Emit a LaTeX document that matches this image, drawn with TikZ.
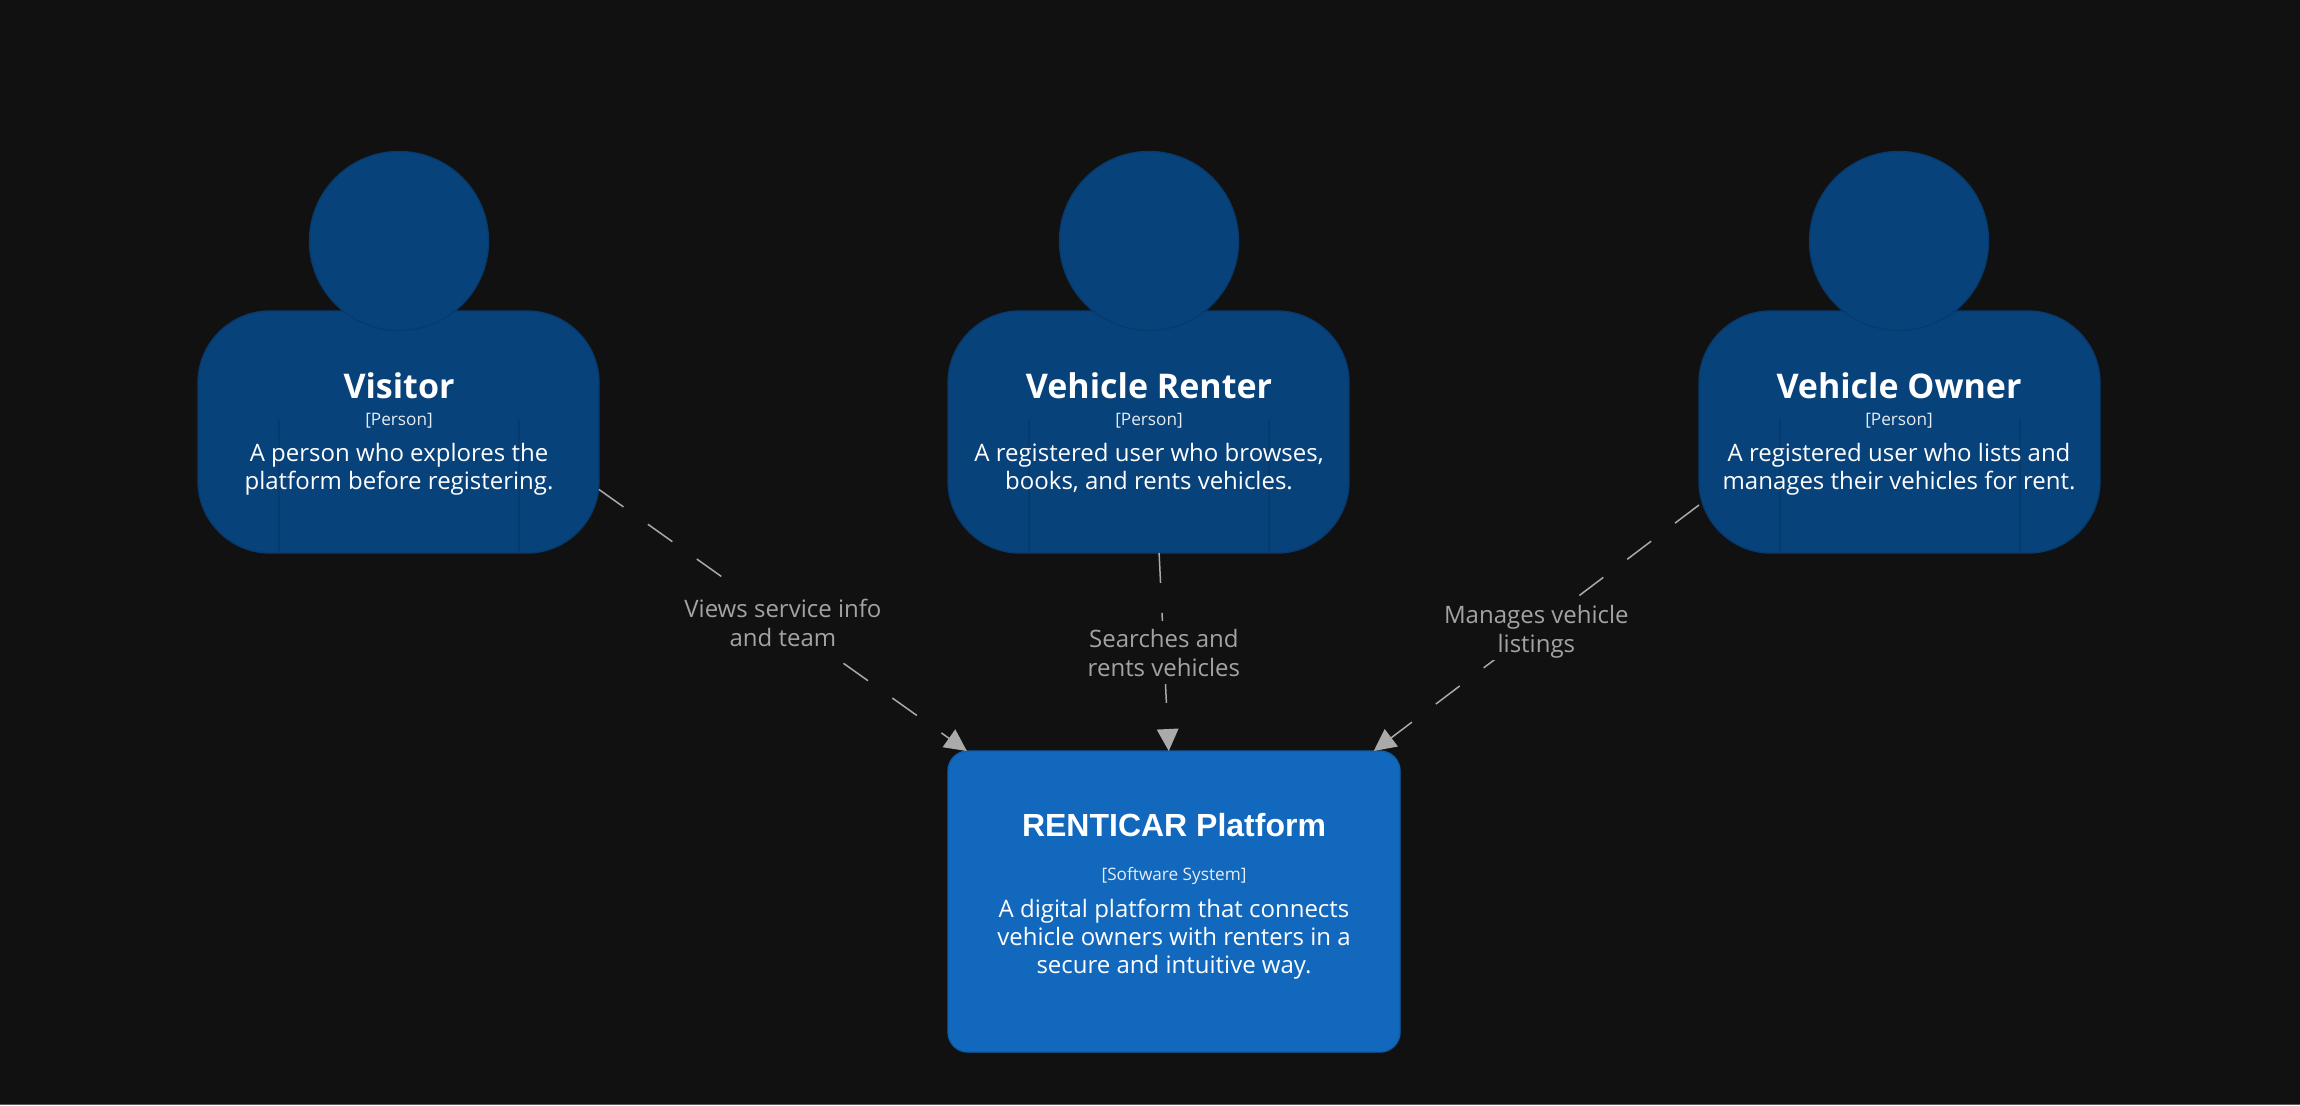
\documentclass[tikz,border=0pt]{standalone}
\usepackage{fontspec}
\setmainfont{Open Sans}
\newfontfamily\arialfont{Liberation Sans}
\usetikzlibrary{arrows.meta, positioning, calc}
\definecolor{canvasdark}{HTML}{111111}
\definecolor{canvasedge}{HTML}{5A5A5A}
\definecolor{personblue}{HTML}{08427B}
\definecolor{personedge}{HTML}{073B6F}
\definecolor{systemblue}{HTML}{1168BD}
\definecolor{systemedge}{HTML}{0F5EAA}
\definecolor{flowgray}{HTML}{AAAAAA}
\definecolor{labelgray}{HTML}{A3A3A3}
\newcommand{\flowtext}[2]{\rule{0pt}{13.35pt}#1\\#2\rule[-3.65pt]{0pt}{0pt}}
\tikzset{
    personbody/.style={
        draw=personedge,
        fill=personblue,
        line width=0.7pt,
        rounded corners=36pt,
        minimum width=200.5pt,
        minimum height=121pt,
        inner sep=0pt,
        outer sep=0pt
    },
    personhead/.style={
        circle,
        draw=personedge,
        fill=personblue,
        line width=0.7pt,
        minimum size=89.5pt,
        inner sep=0pt
    },
    personseam/.style={draw=personedge, line width=0.7pt},
    systembox/.style={
        draw=systemedge,
        fill=systemblue,
        line width=0.7pt,
        rounded corners=10pt,
        minimum width=226pt,
        minimum height=150.5pt,
        inner sep=0pt,
        outer sep=0pt
    },
    titletext/.style={anchor=base, text=white, inner sep=0pt, font=\fontsize{17}{20}\selectfont\bfseries},
    systemtitle/.style={anchor=base, text=white, inner sep=0pt, font=\fontsize{16}{20}\arialfont\bfseries},
    tagtext/.style={anchor=base, text=white!90!personblue, inner sep=0pt, font=\fontsize{8.6}{10}\selectfont},
    desctext/.style={anchor=base, text=white, inner sep=0pt, align=center, font=\fontsize{12}{14}\selectfont},
    flowlabel/.style={
        midway,
        fill=canvasdark,
        text=labelgray,
        align=center,
        inner xsep=1pt,
        inner ysep=0pt,
        font=\fontsize{12}{14.5}\selectfont
    },
    flow/.style={
        -{Triangle[length=11pt, width=10.8pt]},
        draw=flowgray,
        line width=0.75pt,
        dash pattern=on 15pt off 15pt
    }
}
\begin{document}
\begin{tikzpicture}[x=0.5pt, y=-0.5pt]
    \useasboundingbox (0,0) rectangle (2300,1105);
    \fill[canvasdark] (0,0) rectangle (2300,1105);
    \fill[canvasedge] (0,1104) rectangle (2300,1105);

    % persons
    \node[personbody] (visitor) at (398.5,432) {};
    \draw[personseam] (279,419) -- (279,552);
    \draw[personseam] (519,419) -- (519,552);
    \node[personhead] (visitorhead) at (399,241) {};
    \node[titletext] (visitortitle) at (399,398) {Visitor};
    \node[tagtext] (visitortag) at (399,425) {[Person]};
    \node[desctext] (visitordesc) at (399,489) {A person who explores the\\platform before registering.};

    \node[personbody] (renter) at (1148.5,432) {};
    \draw[personseam] (1029,419) -- (1029,552);
    \draw[personseam] (1269,419) -- (1269,552);
    \node[personhead] (renterhead) at (1149,241) {};
    \node[titletext] (rentertitle) at (1149,398) {Vehicle Renter};
    \node[tagtext] (rentertag) at (1149,425) {[Person]};
    \node[desctext] (renterdesc) at (1149,489) {A registered user who browses,\\books, and rents vehicles.};

    \node[personbody] (owner) at (1899.5,432) {};
    \draw[personseam] (1780,419) -- (1780,552);
    \draw[personseam] (2020,419) -- (2020,552);
    \node[personhead] (ownerhead) at (1899,241) {};
    \node[titletext] (ownertitle) at (1899,398) {Vehicle Owner};
    \node[tagtext] (ownertag) at (1899,425) {[Person]};
    \node[desctext] (ownerdesc) at (1899,489) {A registered user who lists and\\manages their vehicles for rent.};

    % system
    \node[systembox] (platform) at (1174,901.5) {};
    \node[systemtitle] (platformtitle) at (1174,836.5) {RENTICAR Platform};
    \node[tagtext] (platformtag) at (1174,880) {[Software System]};
    \node[desctext] (platformdesc) at (1174,973.5) {A digital platform that connects\\vehicle owners with renters in a\\secure and intuitive way.};

    \draw[flow] (visitor.-16.9) -- node[flowlabel, yshift=-1pt] (viewslabel) {\flowtext{Views service info}{and team}} (platform.144.7);
    \draw[flow] (renter.-85.6) -- node[flowlabel] (searcheslabel) {\flowtext{Searches and}{rents vehicles}} (platform.92.9);
    \draw[flow] (owner.-160.25) -- node[flowlabel] (manageslabel) {\flowtext{Manages vehicle}{listings}} (platform.37.5);
\end{tikzpicture}
\end{document}
